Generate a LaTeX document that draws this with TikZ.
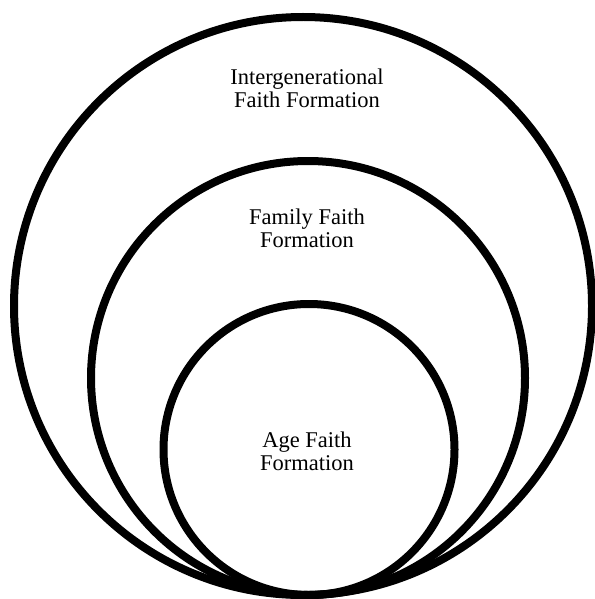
\documentclass[tikz,border=0pt]{standalone}
\usepackage{fontspec}
\setmainfont{Liberation Serif}

\tikzset{ring/.style = {circle, draw, line width = 8pt, minimum size = #1, inner sep = 0pt},
         ring/.default = 290pt,
         ringlabel/.style = {align = center, inner sep = 0pt,
                             font = \fontsize{22.5}{23}\selectfont}
        }

\begin{document}
\begin{tikzpicture}[x=1pt,y=-1pt]
  \useasboundingbox (0,0) rectangle (594,599);
  % rings, all touching at the bottom
  \node[ring=578pt] (outer)  at (303,306)   {};
  \node[ring=434pt] (middle) at (308,378)   {};
  \node[ring=291pt] (inner)  at (309,449.5) {};
  % labels
  \node[ringlabel] (outerlabel)  at (307,88)  {Intergenerational\\Faith Formation};
  \node[ringlabel] (middlelabel) at (307,228) {Family Faith\\Formation};
  \node[ringlabel] (innerlabel)  at (307,451) {Age Faith\\Formation};
\end{tikzpicture}
\end{document}
